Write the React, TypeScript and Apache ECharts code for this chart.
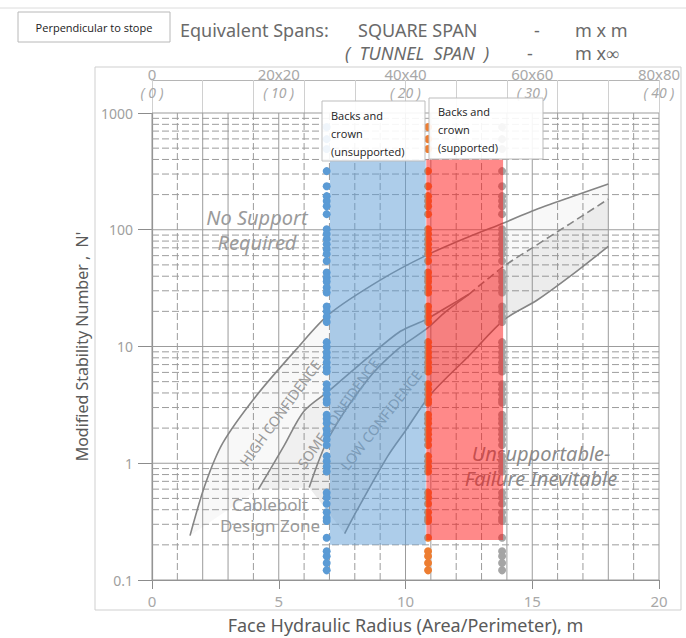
import React, { useEffect, useRef } from 'react';
import * as echarts from 'echarts';

// ---------- data ----------
const squareSpanLabels = ['0', '20x20', '40x40', '60x60', '80x80'];
const tunnelSpanLabels = ['0', '10', '20', '30', '40'];

// design-chart curves [hydraulic radius, N']
const curveA = [[1.5, 0.24], [2.1, 0.66], [2.8, 1.5], [4.1, 3.75], [5.7, 9.5], [7, 19], [9, 37], [10.8, 60], [12.5, 87], [13.9, 115], [15, 145], [16.5, 190], [18, 246]];
const curveB = [[4.2, 0.6], [5.2, 1.4], [6, 2.8], [7, 4.2], [8.5, 8], [9.8, 13.5], [10.8, 17], [11.6, 21.5], [12.5, 28]];
const curveC = [[6.2, 0.62], [7, 1.7], [8.5, 5.2], [9.7, 9.5], [10.8, 14], [11.6, 20], [12.5, 28]];
const curveE = [[12.5, 28], [13.9, 49], [15, 70], [16.5, 113], [18, 183]];
const curveD = [[7.6, 0.25], [8.1, 0.4], [9.3, 1.15], [10, 1.9], [11, 3.9], [12.5, 8.3], [13.9, 17], [15.2, 25], [16.5, 40], [18, 72]];

// stope data (same N' values plotted at three hydraulic radii)
const nValues = [757, 597, 491, 318, 236, 194, 176, 159, 136, 101, 92, 83, 75, 68, 62, 54, 43, 39, 36, 32, 29, 22, 20, 18, 16.2, 10.9, 9.9, 8.9, 8.1, 7.3, 6.6, 6.1, 4.75, 4.3, 3.9, 3.5, 3.3, 2.6, 2.4, 2.2, 1.95, 1.77, 1.6, 1.43, 1.15, 1.04, 0.94, 0.85, 0.56, 0.51, 0.45, 0.38, 0.34, 0.32, 0.23, 0.176, 0.16, 0.14, 0.121];
const hrUnsupported = 6.89;
const hrSupported = 10.89;
const hrLimit = 13.81;

// shaded bands [x0, y0, x1, y1]
const bandUnsupported = [7.02, 0.2, 10.8, 400];
const bandSupported = [10.82, 0.22, 13.85, 400];

// grid lines
const solidX = [0, 2, 3, 5, 10, 11, 14, 15, 18, 20];
const dashedX = [1, 4, 6, 7, 8, 9, 12, 13, 16, 17, 19];
const decades = [0.1, 1, 10, 100, 1000];
const minorMultipliers = [2, 3, 4, 5, 6, 7, 8, 9];

const FONT = 'Noto Sans';
const GRID_COLOR = '#9c9c9c';

const rev = (a: number[][]) => a.slice().reverse();

export default function App() {
  const ref = useRef<HTMLDivElement>(null);
  useEffect(() => {
    if (!ref.current) return;
    const chart = echarts.init(ref.current, null, { renderer: 'svg' });

    const zones = [
      { pts: [...curveA, ...rev(curveE), ...rev(curveB)], fill: 'rgba(110,110,110,0.05)' },
      { pts: [...curveB, ...rev(curveC)], fill: 'rgba(110,110,110,0.1)' },
      { pts: [...curveC, ...curveE.slice(1), ...rev(curveD)], fill: 'rgba(110,110,110,0.13)' },
    ];

    const vLines = [...solidX.map((x) => [x, 1, 1]), ...dashedX.map((x) => [x, 1, 0])];
    const hLines: number[][] = [];
    decades.forEach((d) => hLines.push([1, d, 1]));
    decades.slice(0, 4).forEach((d) => minorMultipliers.forEach((m) => hLines.push([1, +(d * m).toPrecision(3), 0])));

    const lineSeries = (name: string, data: number[][], dashed = false) => ({
      type: 'line', name, data, showSymbol: false, smooth: 0.3, z: 3, silent: true,
      lineStyle: { color: '#858585', width: 1.6, type: dashed ? [8, 4] : 'solid' },
    });

    const bandSeries = (name: string, band: number[], color: string) => ({
      type: 'custom', name, z: 6, silent: true,
      encode: { x: [0, 2], y: [1, 3] },
      data: [band],
      renderItem: (_p: any, api: any) => {
        const a = api.coord([api.value(0), api.value(3)]);
        const b = api.coord([api.value(2), api.value(1)]);
        return { type: 'rect', shape: { x: a[0], y: a[1], width: b[0] - a[0], height: b[1] - a[1] }, style: { fill: color } };
      },
    });

    const dotSeries = (name: string, x: number, color: string) => ({
      type: 'scatter', name, z: 5, symbolSize: 8, silent: true,
      itemStyle: { color, opacity: 1 },
      data: nValues.map((v) => [x, v]),
    });

    const textStyle = (extra: any) => ({ fontFamily: FONT, fill: '#8a8a8a', ...extra });
    const titleStyle = (text: string, extra: any = {}) => textStyle({ text, fontSize: 18, lineHeight: 20, fill: '#6a6a6a', verticalAlign: 'middle', ...extra });
    const noteStyle = (text: string, size: number, extra: any = {}) => textStyle({ text, fontSize: size, align: 'center', verticalAlign: 'middle', fill: '#9a9a9a', ...extra });

    chart.setOption({
      animation: false,
      grid: { left: 152, right: 27, top: 113, bottom: 58, containLabel: false, outerBoundsMode: 'none' },
      xAxis: [
        {
          type: 'value', min: 0, max: 20, interval: 5, position: 'bottom',
          axisLine: { show: true, lineStyle: { color: '#8c8c8c', width: 1.2 } },
          axisTick: { show: true, length: 9, lineStyle: { color: '#8c8c8c' } },
          axisLabel: { fontFamily: FONT, fontSize: 15, color: '#a8a8a8', margin: 13 },
          splitLine: { show: false },
          name: 'Face Hydraulic Radius (Area/Perimeter), m', nameLocation: 'middle', nameGap: 36,
          nameTextStyle: { fontFamily: FONT, fontSize: 18, color: '#5a5a5a' },
        },
        {
          type: 'value', min: 0, max: 20, interval: 5, position: 'top', offset: 33,
          axisLine: { show: true, lineStyle: { color: '#b5b5b5' } },
          axisTick: { show: false },
          splitLine: { show: false },
          axisLabel: {
            margin: -21,
            formatter: (v: number) => {
              const i = Math.round(v / 5);
              return `{s|${squareSpanLabels[i]}}\n{t|( ${tunnelSpanLabels[i]} )}`;
            },
            rich: {
              s: { fontFamily: FONT, fontSize: 15, color: '#a8a8a8', lineHeight: 18 },
              t: { fontFamily: FONT, fontSize: 14, fontStyle: 'italic', color: '#a8a8a8', lineHeight: 18 },
            },
          },
        },
        {
          type: 'value', min: 0, max: 20, interval: 2, position: 'top', offset: 33,
          axisLine: { show: false },
          axisLabel: { show: false },
          splitLine: { show: false },
          axisTick: { show: true, inside: true, length: 33, lineStyle: { color: '#d0d0d0' } },
        },
      ],
      yAxis: {
        type: 'log', logBase: 10, min: 0.1, max: 1000,
        axisLine: { show: true, lineStyle: { color: '#8c8c8c', width: 1.2 } },
        axisTick: { show: true, length: 14, lineStyle: { color: '#8c8c8c' } },
        axisLabel: { fontFamily: FONT, fontSize: 14, color: '#a0a0a0', margin: 19, formatter: (v: number) => String(v) },
        splitLine: { show: false },
        minorTick: { show: false },
        minorSplitLine: { show: false },
        name: "Modified Stability Number ,  N'", nameLocation: 'middle', nameGap: 62, nameRotate: 90,
        nameTextStyle: { fontFamily: FONT, fontSize: 16, color: '#5a5a5a' },
      },
      series: [
        {
          type: 'custom', name: 'verticalGrid', z: 1, silent: true,
          data: vLines,
          renderItem: (_p: any, api: any) => {
            const x = api.value(0);
            const p1 = api.coord([x, 0.1]);
            const p2 = api.coord([x, 1000]);
            const solid = api.value(2) === 1;
            return {
              type: 'line', shape: { x1: p1[0], y1: p1[1], x2: p2[0], y2: p2[1] },
              style: solid ? { stroke: GRID_COLOR, lineWidth: 1 } : { stroke: GRID_COLOR, lineWidth: 1, lineDash: [7, 3] },
            };
          },
        },
        {
          type: 'custom', name: 'horizontalGrid', z: 1, silent: true,
          data: hLines,
          renderItem: (_p: any, api: any) => {
            const y = api.value(1);
            const p1 = api.coord([0, y]);
            const p2 = api.coord([20, y]);
            const solid = api.value(2) === 1;
            return {
              type: 'line', shape: { x1: p1[0], y1: p1[1], x2: p2[0], y2: p2[1] },
              style: solid ? { stroke: GRID_COLOR, lineWidth: 1.2 } : { stroke: GRID_COLOR, lineWidth: 1, lineDash: [7, 3] },
            };
          },
        },
        {
          type: 'custom', name: 'zones', z: 2, silent: true,
          data: zones.map((_z, i) => [1, 1, i]),
          renderItem: (_p: any, api: any) => {
            const zone = zones[api.value(2)];
            return { type: 'polygon', shape: { points: zone.pts.map((p) => api.coord(p)) }, style: { fill: zone.fill } };
          },
        },
        lineSeries('curveA', curveA),
        lineSeries('curveB', curveB),
        lineSeries('curveC', curveC),
        lineSeries('curveE', curveE, true),
        lineSeries('curveD', curveD),
        dotSeries('Backs and crown (unsupported)', hrUnsupported, '#5b9bd5'),
        dotSeries('Backs and crown (supported)', hrSupported, '#ed7d31'),
        dotSeries('Limit', hrLimit, '#a5a5a5'),
        bandSeries('bandUnsupported', bandUnsupported, 'rgba(91,155,213,0.5)'),
        bandSeries('bandSupported', bandSupported, 'rgba(255,20,20,0.5)'),
      ],
      graphic: [
        { type: 'line', z: 0, shape: { x1: 0, y1: 8, x2: 686, y2: 8 }, style: { stroke: '#dcdcdc', lineWidth: 1 } },
        { type: 'rect', z: 0, shape: { x: 95, y: 67, width: 586, height: 543 }, style: { fill: 'none', stroke: '#cfcfcf', lineWidth: 1 } },
        { type: 'rect', z: 10, shape: { x: 18, y: 12, width: 152, height: 30 }, style: { fill: '#fff', stroke: '#b8b8b8', lineWidth: 1 } },
        { type: 'text', z: 11, x: 94, y: 27, style: { text: 'Perpendicular to stope', fontFamily: 'Open Sans', fontSize: 11, fill: '#222', align: 'center', verticalAlign: 'middle' } },
        // title
        { type: 'text', z: 11, x: 180, y: 30, style: titleStyle('Equivalent Spans:') },
        { type: 'text', z: 11, x: 358, y: 30, style: titleStyle('SQUARE SPAN') },
        { type: 'text', z: 11, x: 534, y: 30, style: titleStyle('-') },
        { type: 'text', z: 11, x: 575, y: 30, style: titleStyle('m x m') },
        { type: 'text', z: 11, x: 345, y: 53, style: titleStyle('(  TUNNEL  SPAN  )', { fontStyle: 'italic' }) },
        { type: 'text', z: 11, x: 527, y: 53, style: titleStyle('-') },
        { type: 'text', z: 11, x: 575, y: 53, style: titleStyle('m x∞') },
        // in-chart annotations
        { type: 'text', z: 4, x: 257, y: 230, style: noteStyle('No Support\nRequired', 20, { fontStyle: 'italic', lineHeight: 25 }) },
        { type: 'text', z: 4, x: 280, y: 413, rotation: 54 * Math.PI / 180, style: noteStyle('HIGH CONFIDENCE', 14) },
        { type: 'text', z: 4, x: 338, y: 413, rotation: 55 * Math.PI / 180, style: noteStyle('SOME CONFIDENCE', 14) },
        { type: 'text', z: 4, x: 381, y: 420, rotation: 52 * Math.PI / 180, style: noteStyle('LOW CONFIDENCE', 14) },
        { type: 'text', z: 4, x: 270, y: 515, style: noteStyle('Cablebolt\nDesign Zone', 17, { lineHeight: 21 }) },
        { type: 'text', z: 4, x: 541, y: 466, style: noteStyle('Unsupportable-\nFailure Inevitable', 20, { fontStyle: 'italic', fill: '#8a8a8a', lineHeight: 25 }) },
        // data label boxes
        { type: 'rect', z: 20, shape: { x: 322, y: 101, width: 103, height: 60 }, style: { fill: 'rgba(255,255,255,0.9)', stroke: '#bdbdbd', lineWidth: 1 } },
        { type: 'text', z: 21, x: 331, y: 106, style: { text: 'Backs and\ncrown\n(unsupported)', fontFamily: 'Open Sans', fontSize: 11, lineHeight: 18, fill: '#222', verticalAlign: 'top' } },
        { type: 'rect', z: 20, shape: { x: 429, y: 98, width: 114, height: 61 }, style: { fill: 'rgba(255,255,255,0.9)', stroke: '#bdbdbd', lineWidth: 1 } },
        { type: 'text', z: 21, x: 438, y: 102, style: { text: 'Backs and\ncrown\n(supported)', fontFamily: 'Open Sans', fontSize: 11, lineHeight: 18, fill: '#222', verticalAlign: 'top' } },
      ],
    });
    return () => chart.dispose();
  }, []);
  return <div ref={ref} style={{ position: 'absolute', left: 0, top: 0, width: 686, height: 638, background: '#fff' }} />;
}
